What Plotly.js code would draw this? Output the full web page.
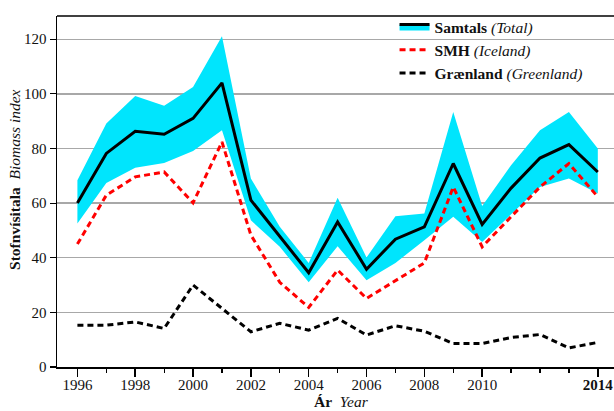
<!DOCTYPE html>
<html>
<head>
<meta charset="utf-8">
<script src="https://cdn.plot.ly/plotly-3.0.1.min.js"></script>
<style>html,body{margin:0;padding:0;background:#fff;}#chart{width:614px;height:411px;}</style>
</head>
<body>
<div id="chart"></div>
<script>
const years = [1996,1997,1998,1999,2000,2001,2002,2003,2004,2005,2006,2007,2008,2009,2010,2011,2012,2013,2014];
const totalMid = [60, 78.2, 86.3, 85.2, 91.0, 104.0, 61.1, 47.6, 34.5, 53.1, 35.8, 46.8, 51.3, 74.5, 52.2, 65.5, 76.5, 81.4, 71.4];
const totalUpper = [68.4, 89.1, 99.2, 95.6, 102.5, 121.1, 69.0, 51.3, 38.1, 62.0, 40.1, 55.2, 56.2, 93.4, 58.9, 73.9, 86.7, 93.4, 80.0];
const totalLower = [52.5, 67.4, 72.9, 74.7, 79.1, 86.7, 53.7, 44.0, 31.0, 44.2, 31.8, 38.1, 46.4, 55.0, 45.8, 56.0, 65.9, 69.0, 63.5];
const iceland = [45.0, 62.9, 69.6, 71.4, 60.1, 82.4, 48.3, 31.0, 21.8, 35.5, 25.1, 31.5, 38.1, 65.9, 44.0, 55.0, 65.9, 74.5, 62.3];
const greenland = [15.3, 15.3, 16.5, 14.1, 30.0, 21.4, 12.9, 16.0, 13.5, 17.8, 11.7, 15.1, 13.1, 8.6, 8.6, 10.8, 11.9, 7.0, 9.0];
const majorTicks = [1996,1998,2000,2002,2004,2006,2008,2010,2014];
const majorLabels = ['1996','1998','2000','2002','2004','2006','2008','2010','<b>2014</b>'];
const yTicks = [0,20,40,60,80,100,120];

const CYAN = '#00e5fd';
const FONT = 'Liberation Serif, Times New Roman, serif';

const traces = [
  {x: years, y: totalLower, type: 'scatter', mode: 'lines', line: {width: 0, color: CYAN}, showlegend: false, hoverinfo: 'skip'},
  {x: years, y: totalUpper, type: 'scatter', mode: 'lines', fill: 'tonexty', fillcolor: CYAN, line: {width: 0, color: CYAN}, showlegend: false},
  {x: years, y: iceland, type: 'scatter', mode: 'lines', line: {color: '#ff0000', width: 3, dash: '6px,4px'}, name: '<b>SMH</b> <i>(Iceland)</i>', legendrank: 2},
  {x: years, y: greenland, type: 'scatter', mode: 'lines', line: {color: '#000000', width: 3, dash: '6px,4px'}, name: '<b>Grænland</b> <i>(Greenland)</i>', legendrank: 3},
  {x: years, y: totalMid, type: 'scatter', mode: 'lines', line: {color: '#000000', width: 3}, showlegend: false},
  {x: [null], y: [null], type: 'scatter', mode: 'lines', fill: 'tonexty', fillcolor: CYAN, line: {color: '#000000', width: 3}, name: '<b>Samtals</b> <i>(Total)</i>', legendrank: 1}
];

const layout = {
  width: 614, height: 411,
  margin: {l: 57, r: 0, t: 16, b: 44},
  paper_bgcolor: '#ffffff', plot_bgcolor: '#ffffff',
  font: {family: FONT, size: 15, color: '#111'},
  showlegend: true,
  legend: {x: 0.606, xanchor: 'left', y: 1.017, yanchor: 'top', bgcolor: 'rgba(0,0,0,0)', font: {family: FONT, size: 15.5, color: '#111'}, traceorder: 'normal'},
  xaxis: {
    range: [1995.294, 2014.56], tickmode: 'array', tickvals: majorTicks, ticktext: majorLabels,
    ticks: 'outside', ticklen: 8, tickwidth: 1.5, tickcolor: '#000', ticklabelstandoff: -5,
    minor: {tickmode: 'linear', tick0: 1996, dtick: 1, ticks: 'outside', ticklen: 4, tickwidth: 1.2, tickcolor: '#000', showgrid: false},
    showgrid: false, zeroline: false, showline: true, linecolor: '#000', linewidth: 2,
    tickfont: {family: FONT, size: 15, color: '#111'}, fixedrange: true
  },
  yaxis: {
    range: [0, 128.5], tickmode: 'array', tickvals: yTicks,
    ticks: 'outside', ticklen: 6, tickwidth: 1.2, tickcolor: '#000',
    showgrid: true, gridcolor: '#a8a8a8', gridwidth: 1.3, zeroline: false,
    showline: true, linecolor: '#000', linewidth: 1.5,
    tickfont: {family: FONT, size: 15, color: '#111'}, fixedrange: true
  },
  shapes: [
    {type: 'line', xref: 'paper', yref: 'paper', x0: 0, x1: 1, y0: 1, y1: 1, line: {color: '#000', width: 1.5}}
  ],
  annotations: [
    {xref: 'paper', yref: 'paper', x: -0.0754, y: 0.533, xanchor: 'center', yanchor: 'middle', textangle: -90, showarrow: false,
     text: '<b>Stofnvísitala</b>  <i>Biomass index</i>', font: {family: FONT, size: 15.5, color: '#111'}},
    {xref: 'paper', yref: 'paper', x: 0.511, y: -0.127, xanchor: 'center', yanchor: 'bottom', showarrow: false,
     text: '<b>Ár</b>  <i>Year</i>', font: {family: FONT, size: 15.5, color: '#111'}}
  ]
};

Plotly.newPlot('chart', traces, layout, {staticPlot: true, displayModeBar: false});
</script>
</body>
</html>
